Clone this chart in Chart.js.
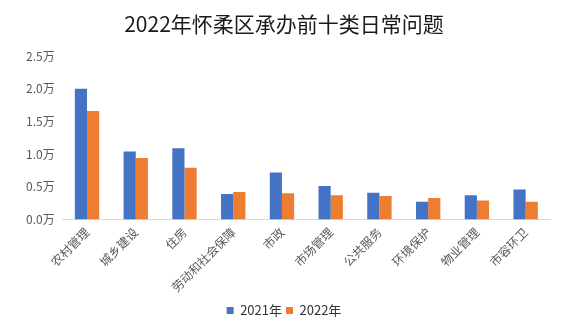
<!DOCTYPE html>
<html>
<head>
<meta charset="utf-8">
<script src="https://cdn.jsdelivr.net/npm/chart.js@4"></script>
<style>
  body { margin: 0; background: #fff; }
  #wrap { width: 576px; height: 330px; }
</style>
</head>
<body>
<div id="wrap"><canvas id="chart"></canvas></div>
<script>
// data (unit: 万)
const categories = ['农村管理', '城乡建设', '住房', '劳动和社会保障', '市政', '市场管理', '公共服务', '环境保护', '物业管理', '市容环卫'];
const values2021 = [2.00, 1.04, 1.09, 0.39, 0.72, 0.51, 0.41, 0.27, 0.37, 0.46];
const values2022 = [1.66, 0.94, 0.79, 0.42, 0.40, 0.37, 0.36, 0.33, 0.29, 0.27];
const seriesNames = ['2021年', '2022年'];

const font = "'Noto Sans CJK SC', 'Noto Sans', sans-serif";
const gray = '#595959';

new Chart(document.getElementById('chart'), {
    type: 'bar',
    data: {
        labels: categories,
        datasets: [{
            label: seriesNames[0],
            data: values2021,
            backgroundColor: '#4472C4',
            categoryPercentage: 0.5,
            barPercentage: 1.0
        }, {
            label: seriesNames[1],
            data: values2022,
            backgroundColor: '#ED7D31',
            categoryPercentage: 0.5,
            barPercentage: 1.0
        }]
    },
    options: {
        responsive: true,
        maintainAspectRatio: false,
        animation: false,
        layout: { padding: { left: 18, right: 26, top: 4, bottom: 3 } },
        plugins: {
            title: {
                display: true,
                text: '2022年怀柔区承办前十类日常问题',
                color: '#1a1a1a',
                font: { family: font, size: 21, weight: 'normal' },
                padding: { top: 7, bottom: 20 }
            },
            legend: {
                position: 'bottom',
                labels: {
                    color: '#333333',
                    font: { family: font, size: 13 },
                    boxWidth: 7,
                    boxHeight: 7,
                    padding: 4
                }
            },
            tooltip: { enabled: false }
        },
        scales: {
            x: {
                grid: { display: false, drawTicks: false },
                border: { color: '#d9d9d9' },
                ticks: {
                    color: gray,
                    font: { family: font, size: 12 },
                    maxRotation: 45,
                    minRotation: 45,
                    padding: 5.5
                }
            },
            y: {
                min: 0,
                max: 2.5,
                grid: { display: false, drawTicks: false },
                border: { display: false },
                ticks: {
                    stepSize: 0.5,
                    color: gray,
                    font: { family: font, size: 12 },
                    padding: 8,
                    callback: v => v.toFixed(1) + '万'
                }
            }
        }
    }
});
</script>
</body>
</html>
